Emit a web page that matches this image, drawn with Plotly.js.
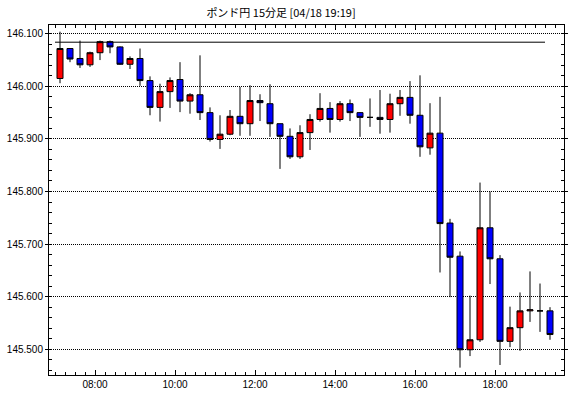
<!DOCTYPE html>
<html>
<head>
<meta charset="utf-8">
<script src="https://cdn.plot.ly/plotly-3.0.1.min.js"></script>
<style>
html,body{margin:0;padding:0;background:#fff;}
#chart{width:570px;height:398px;}
</style>
</head>
<body>
<div id="chart"></div>
<script>
// bar times (15-minute bars, plotted at bar centre)
const barStarts = [
  "07:00","07:15","07:30","07:45","08:00","08:15","08:30","08:45",
  "09:00","09:15","09:30","09:45","10:00","10:15","10:30","10:45",
  "11:00","11:15","11:30","11:45","12:00","12:15","12:30","12:45",
  "13:00","13:15","13:30","13:45","14:00","14:15","14:30","14:45",
  "15:00","15:15","15:30","15:45","16:00","16:15","16:30","16:45",
  "17:00","17:15","17:30","17:45","18:00","18:15","18:30","18:45",
  "19:00","19:15"
];
const openVals = [
  146.015,146.072,146.053,146.041,146.064,146.085,146.075,146.042,
  146.053,146.011,145.960,145.990,146.013,145.972,145.984,145.950,
  145.899,145.909,145.943,145.929,145.973,145.967,145.929,145.905,
  145.866,145.912,145.937,145.958,145.937,145.967,145.950,145.941,
  145.941,145.937,145.967,145.979,145.945,145.883,145.911,145.740,
  145.677,145.499,145.518,145.731,145.672,145.515,145.541,145.573,
  145.573,145.573
];
const highVals = [
  146.104,146.072,146.087,146.066,146.087,146.087,146.076,146.057,
  146.072,146.019,146.005,146.017,146.046,145.987,146.059,145.960,
  145.945,145.955,145.999,146.002,145.985,146.004,145.929,145.920,
  145.926,145.947,145.987,145.970,145.972,145.975,145.951,145.977,
  145.993,145.986,145.993,146.010,146.021,145.968,145.980,145.748,
  145.686,145.602,145.817,145.800,145.679,145.581,145.608,145.648,
  145.625,145.580
];
const lowVals = [
  146.006,146.046,146.035,146.037,146.050,146.063,146.041,146.033,
  146.001,145.945,145.933,145.959,145.951,145.948,145.936,145.895,
  145.881,145.907,145.906,145.906,145.934,145.904,145.843,145.862,
  145.862,145.879,145.933,145.912,145.933,145.934,145.904,145.923,
  145.910,145.912,145.944,145.929,145.866,145.870,145.646,145.599,
  145.465,145.487,145.514,145.624,145.470,145.504,145.497,145.552,
  145.533,145.518
];
const closeVals = [
  146.072,146.052,146.041,146.064,146.085,146.075,146.042,146.053,
  146.011,145.960,145.990,146.011,145.972,145.984,145.950,145.899,
  145.909,145.943,145.929,145.973,145.969,145.929,145.905,145.866,
  145.912,145.937,145.958,145.937,145.967,145.950,145.941,145.941,
  145.937,145.967,145.979,145.945,145.885,145.911,145.739,145.675,
  145.499,145.518,145.731,145.672,145.515,145.541,145.573,145.575,
  145.573,145.528
];
// horizontal reference line
const refLineTimes = ["07:00","19:15"];
const refLineValue = [146.084, 146.084];

const day = "2024-04-18 ";
function centre(t){
  const [h,m] = t.split(":").map(Number);
  const mins = h*60 + m + 7.5;
  const hh = String(Math.floor(mins/60)).padStart(2,"0");
  const mm = Math.floor(mins%60);
  const ss = Math.round((mins%1)*60);
  return day + hh + ":" + String(mm).padStart(2,"0") + ":" + String(ss).padStart(2,"0");
}
const xs = barStarts.map(centre);

const traces = [
  {
    type: "scatter", mode: "lines",
    x: refLineTimes.map(t => day + t),
    y: refLineValue,
    line: {color: "#000000", width: 1},
    hoverinfo: "skip", showlegend: false
  },
  {
    type: "candlestick",
    x: xs, open: openVals, high: highVals, low: lowVals, close: closeVals,
    increasing: {fillcolor: "#ff0000", line: {color: "#000000", width: 1}},
    decreasing: {fillcolor: "#0000ff", line: {color: "#000000", width: 1}},
    whiskerwidth: 0,
    showlegend: false
  }
];

const tickFont = {family: "Liberation Sans, Arial, sans-serif", size: 10, color: "#000000"};

const layout = {
  width: 570, height: 398,
  margin: {l: 49, r: 6, t: 25, b: 23, pad: 0},
  paper_bgcolor: "#ffffff", plot_bgcolor: "#ffffff",
  showlegend: false,
  boxgap: 0.2, boxgroupgap: 0.25,
  title: {
    text: "ポンド円 15分足 [04/18 19:19]",
    font: {family: "Noto Sans CJK JP, sans-serif", size: 11, color: "#000000"},
    x: 0.493, xanchor: "center", y: 0.967, yanchor: "middle", yref: "container"
  },
  xaxis: {
    type: "date",
    range: [day + "06:51:00", day + "19:43:30"],
    rangeslider: {visible: false},
    tickformat: "%H:%M",
    tick0: day + "00:00", dtick: 7200000,
    ticks: "inside", ticklen: 5, tickwidth: 1, tickcolor: "#000000",
    minor: {dtick: 900000, ticks: "inside", ticklen: 3, tickwidth: 1, tickcolor: "#000000", showgrid: false},
    showgrid: false, zeroline: false,
    showline: true, linecolor: "#000000", linewidth: 1, mirror: "allticks",
    tickfont: tickFont, fixedrange: true
  },
  yaxis: {
    range: [145.451, 146.1167],
    tickformat: ".3f",
    tick0: 145.5, dtick: 0.1,
    ticks: "outside", ticklen: 3, tickwidth: 1, tickcolor: "#000000",
    minor: {tick0: 145.5, dtick: 0.02, ticks: "inside", ticklen: 3, tickwidth: 1, tickcolor: "#000000", showgrid: false},
    showgrid: true, gridcolor: "#000000", gridwidth: 1, griddash: "1px,1px",
    zeroline: false,
    showline: true, linecolor: "#000000", linewidth: 1, mirror: "allticks",
    tickfont: tickFont, fixedrange: true
  }
};

Plotly.newPlot("chart", traces, layout, {displayModeBar: false, staticPlot: true});
</script>
</body>
</html>
